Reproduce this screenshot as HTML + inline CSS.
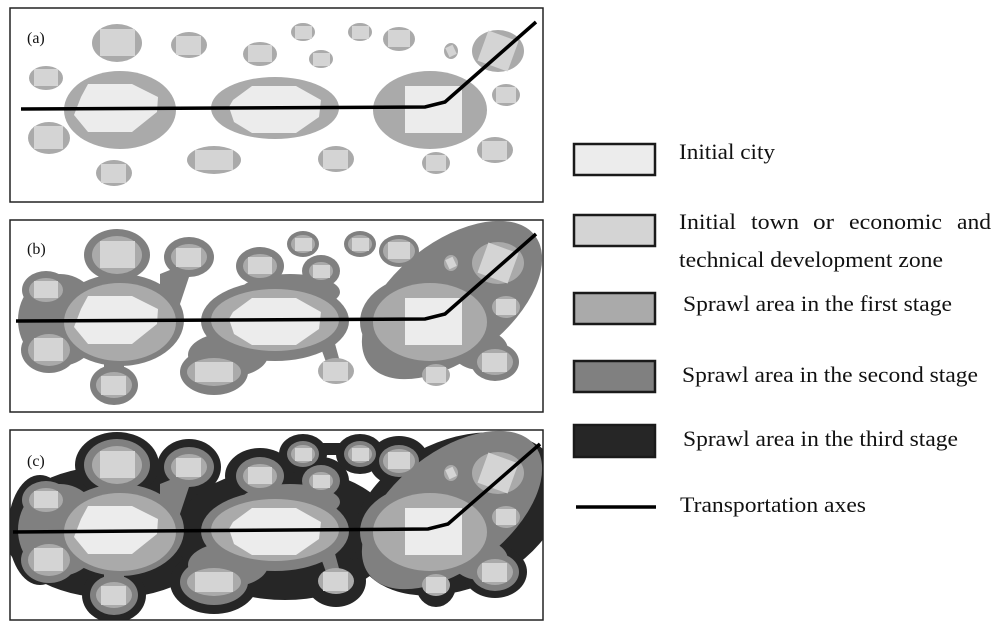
<!DOCTYPE html>
<html><head><meta charset="utf-8"><style>
html,body{margin:0;padding:0;background:#fff;}
svg{display:block;}
text{font-family:"Liberation Serif",serif;fill:#111;}
</style></head><body>
<svg width="1000" height="633" viewBox="0 0 1000 633" xmlns="http://www.w3.org/2000/svg">
<defs>
<g id="base">
  <g fill="#aaaaaa">
    <ellipse cx="120" cy="110" rx="56" ry="39"/>
    <ellipse cx="275" cy="108" rx="64" ry="31"/>
    <ellipse cx="430" cy="110" rx="57" ry="39"/>
    <ellipse cx="117" cy="43" rx="25" ry="19"/>
    <ellipse cx="189" cy="45" rx="18" ry="13"/>
    <ellipse cx="260" cy="54" rx="17" ry="12"/>
    <ellipse cx="303" cy="32" rx="12" ry="9"/>
    <ellipse cx="321" cy="59" rx="12" ry="9"/>
    <ellipse cx="360" cy="32" rx="12" ry="9"/>
    <ellipse cx="399" cy="39" rx="16" ry="12"/>
    <ellipse cx="451" cy="51" rx="7" ry="8"/>
    <ellipse cx="498" cy="51" rx="26" ry="21"/>
    <ellipse cx="46" cy="78" rx="17" ry="12"/>
    <ellipse cx="506" cy="95" rx="14" ry="11"/>
    <ellipse cx="49" cy="138" rx="21" ry="16"/>
    <ellipse cx="114" cy="173" rx="18" ry="13"/>
    <ellipse cx="214" cy="160" rx="27" ry="14"/>
    <ellipse cx="336" cy="159" rx="18" ry="13"/>
    <ellipse cx="436" cy="163" rx="14" ry="11"/>
    <ellipse cx="495" cy="150" rx="18" ry="13"/>
  </g>
  <g fill="#ececec">
    <polygon points="88,84 132,84 158,97 157,112 132,132 88,132 74,115 81,97"/>
    <polygon points="252,86 296,86 321,100 319,117 296,133 252,133 234,122 229,107 233,100"/>
    <rect x="405" y="86" width="57" height="47"/>
  </g>
  <g fill="#d4d4d4">
    <rect x="100" y="29" width="35" height="27"/>
    <rect x="176" y="36" width="25" height="19"/>
    <rect x="248" y="45" width="24" height="17"/>
    <rect x="295" y="26" width="17" height="13"/>
    <rect x="313" y="53" width="17" height="13"/>
    <rect x="352" y="26" width="17" height="13"/>
    <rect x="388" y="30" width="22" height="17"/>
    <rect x="447" y="46" width="8" height="10" transform="rotate(-25 451 51)"/>
    <rect x="482" y="35" width="32" height="32" transform="rotate(20 498 51)"/>
    <rect x="34" y="69" width="24" height="17"/>
    <rect x="496" y="87" width="20" height="16"/>
    <rect x="34" y="126" width="29" height="23"/>
    <rect x="101" y="164" width="25" height="19"/>
    <rect x="195" y="150" width="38" height="20"/>
    <rect x="323" y="150" width="25" height="19"/>
    <rect x="426" y="155" width="20" height="16"/>
    <rect x="482" y="141" width="25" height="19"/>
  </g>
</g>
<g id="s2" fill="#808080">
  <ellipse cx="120" cy="108" rx="64" ry="46"/>
  <ellipse cx="275" cy="109" rx="74" ry="40"/>
  <ellipse cx="452" cy="88" rx="105" ry="58" transform="rotate(-38 452 88)"/>
  <ellipse cx="425" cy="110" rx="65" ry="47"/>
  <ellipse cx="117" cy="43" rx="33" ry="26"/>
  <ellipse cx="189" cy="45" rx="25" ry="20"/>
  <ellipse cx="260" cy="54" rx="24" ry="19"/>
  <ellipse cx="303" cy="32" rx="16" ry="13"/>
  <ellipse cx="321" cy="59" rx="19" ry="16"/>
  <ellipse cx="360" cy="32" rx="16" ry="13"/>
  <ellipse cx="399" cy="39" rx="20" ry="16"/>
  <ellipse cx="46" cy="78" rx="24" ry="19"/>
  <ellipse cx="49" cy="138" rx="28" ry="23"/>
  <ellipse cx="114" cy="173" rx="24" ry="20"/>
  <ellipse cx="214" cy="160" rx="34" ry="23"/>
  <ellipse cx="495" cy="150" rx="24" ry="19"/>
  <ellipse cx="60" cy="108" rx="42" ry="46"/>
  <polygon points="160,62 185,52 190,62 178,98 160,96"/>
  <rect x="104" y="145" width="20" height="20"/>
  <ellipse cx="290" cy="80" rx="50" ry="18"/>
  <ellipse cx="228" cy="143" rx="40" ry="22"/>
  <polygon points="318,128 334,128 340,150 326,150"/>
  <ellipse cx="480" cy="138" rx="28" ry="20"/>
</g>
<g id="s3" fill="#262626">
  <ellipse cx="112" cy="110" rx="108" ry="66"/>
  <ellipse cx="285" cy="112" rx="110" ry="66"/>
  <ellipse cx="458" cy="92" rx="110" ry="74" transform="rotate(-25 458 92)"/>
  <rect x="300" y="21" width="100" height="12"/>
  <ellipse cx="117" cy="43" rx="42" ry="33"/>
  <ellipse cx="189" cy="45" rx="32" ry="28"/>
  <ellipse cx="260" cy="54" rx="35" ry="28"/>
  <ellipse cx="303" cy="32" rx="24" ry="20"/>
  <ellipse cx="321" cy="59" rx="28" ry="24"/>
  <ellipse cx="360" cy="32" rx="24" ry="20"/>
  <ellipse cx="399" cy="39" rx="30" ry="25"/>
  <ellipse cx="114" cy="173" rx="32" ry="28"/>
  <ellipse cx="214" cy="160" rx="44" ry="32"/>
  <ellipse cx="336" cy="159" rx="30" ry="26"/>
  <ellipse cx="436" cy="163" rx="20" ry="22"/>
  <ellipse cx="495" cy="150" rx="32" ry="26"/>
  <ellipse cx="40" cy="108" rx="32" ry="55"/>
</g>
</defs>

<rect x="10" y="8" width="533" height="194" fill="#fff" stroke="#222" stroke-width="1.5"/>
<use href="#base"/>
<polyline points="21,109 425,107 445,102 536,22" fill="none" stroke="#000" stroke-width="3.5"/>
<text x="27" y="43" font-size="16">(a)</text>

<rect x="10" y="220" width="533" height="192" fill="#fff" stroke="#222" stroke-width="1.5"/>
<g transform="translate(0,212)">
  <use href="#s2"/>
  <use href="#base"/>
  <polyline points="16,109 425,107 445,102 536,22" fill="none" stroke="#000" stroke-width="3.5"/>
</g>
<text x="27" y="254" font-size="16">(b)</text>

<svg x="10" y="430" width="533" height="190" viewBox="10 430 533 190" overflow="hidden">
<rect x="10" y="430" width="533" height="190" fill="#fff"/>
<g transform="translate(0,422)">
  <use href="#s3"/>
  <use href="#s2"/>
  <use href="#base"/>
  <polyline points="13,110 428,107 448,102 540,22" fill="none" stroke="#000" stroke-width="3.5"/>
</g>
</svg>
<rect x="10" y="430" width="533" height="190" fill="none" stroke="#222" stroke-width="1.5"/>
<text x="27" y="466" font-size="16">(c)</text>

<g stroke="#1a1a1a" stroke-width="2.5">
  <rect x="574" y="144" width="81" height="31" fill="#ececec"/>
  <rect x="574" y="215" width="81" height="31" fill="#d4d4d4"/>
  <rect x="574" y="293" width="81" height="31" fill="#aaaaaa"/>
  <rect x="574" y="361" width="81" height="31" fill="#808080"/>
  <rect x="574" y="425" width="81" height="32" fill="#262626"/>
</g>
<line x1="576" y1="507" x2="656" y2="507" stroke="#000" stroke-width="3.5"/>
<g font-size="22">
  <text x="679" y="159" textLength="96" lengthAdjust="spacingAndGlyphs">Initial city</text>
  <text x="679" y="229" textLength="57" lengthAdjust="spacingAndGlyphs">Initial</text>
  <text x="751" y="229" textLength="48" lengthAdjust="spacingAndGlyphs">town</text>
  <text x="813" y="229" textLength="21" lengthAdjust="spacingAndGlyphs">or</text>
  <text x="849" y="229" textLength="93" lengthAdjust="spacingAndGlyphs">economic</text>
  <text x="957" y="229" textLength="34" lengthAdjust="spacingAndGlyphs">and</text>
  <text x="679" y="267" textLength="264" lengthAdjust="spacingAndGlyphs">technical development zone</text>
  <text x="683" y="311" textLength="269" lengthAdjust="spacingAndGlyphs">Sprawl area in the first stage</text>
  <text x="682" y="382" textLength="296" lengthAdjust="spacingAndGlyphs">Sprawl area in the second stage</text>
  <text x="683" y="446" textLength="275" lengthAdjust="spacingAndGlyphs">Sprawl area in the third stage</text>
  <text x="680" y="512" textLength="186" lengthAdjust="spacingAndGlyphs">Transportation axes</text>
</g>
</svg>
</body></html>
